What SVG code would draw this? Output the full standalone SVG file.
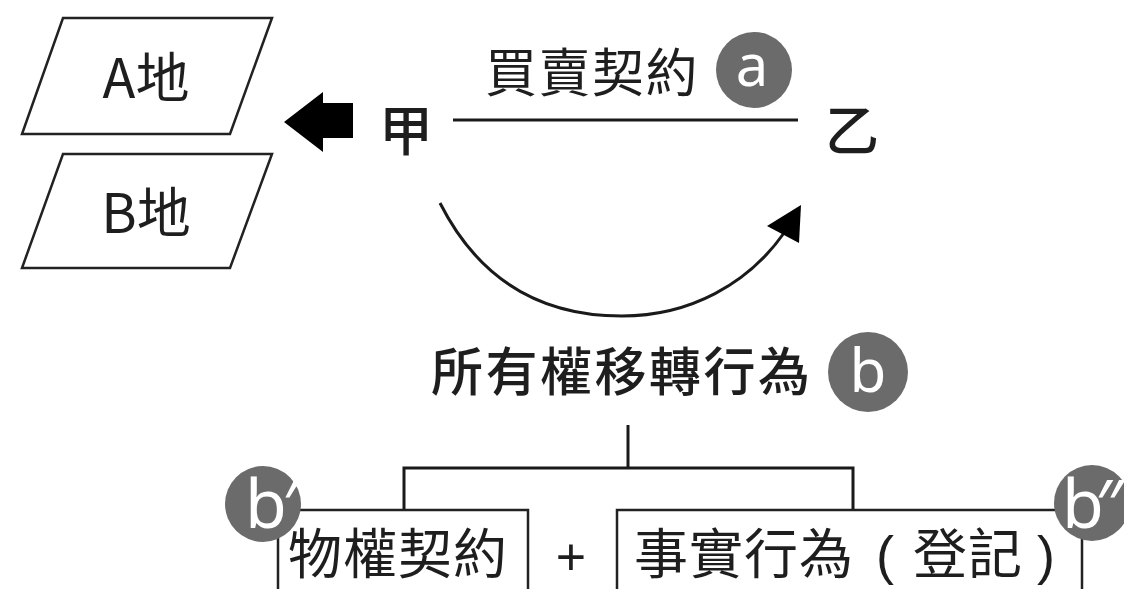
<svg xmlns="http://www.w3.org/2000/svg" width="1124" height="589" viewBox="0 0 1124 589">
<style>
.t{font-family:"Noto Sans CJK TC","Noto Sans CJK SC",sans-serif;fill:#1e1e1e;font-weight:400;}
.m{font-weight:500;}
.p{font-family:"Liberation Sans",sans-serif;fill:#1e1e1e;}
.shape{fill:#fff;stroke:#222;stroke-width:2.5;}
.ln{fill:none;stroke:#1a1a1a;stroke-width:3;}
.badge{fill:#6b6b6b;}
.bt{font-family:"Noto Sans","Liberation Sans",sans-serif;fill:#fff;}
</style>
<rect width="1124" height="589" fill="#fff"/>
<g id="connectors">
  <polygon points="284,122 323,92 323,103 353,103 353,138 323,138 323,152" fill="#000"/>
  <line class="ln" x1="453" y1="120" x2="798" y2="120"/>
  <path class="ln" d="M440,203 C485,292 555,316 622,316 C690,316 748,284 784,233"/>
  <polygon points="801,205 767,226 799,243" fill="#000"/>
  <path class="ln" d="M628,425 V468 M404,509 V468 H853 V509"/>
</g>
<g id="nodeA">
  <polygon class="shape" points="63,18 272,18 230,134 22,134"/>
  <text class="t" x="146" y="98" font-size="54" text-anchor="middle">A地</text>
</g>
<g id="nodeB">
  <polygon class="shape" points="63,154 272,154 230,268 22,268"/>
  <text class="t" x="146" y="233" font-size="54" text-anchor="middle">B地</text>
</g>
<g id="jia">
  <text class="t m" x="406" y="151" font-size="54" text-anchor="middle">甲</text>
</g>
<g id="yi">
  <text class="t m" x="852" y="151" font-size="54" text-anchor="middle">乙</text>
</g>
<g id="contract">
  <text class="t" x="485" y="92" font-size="52" letter-spacing="1.5">買賣契約</text>
  <circle class="badge" cx="754" cy="70" r="38"/>
  <text class="bt" x="752" y="86" font-size="58" text-anchor="middle">a</text>
</g>
<g id="transfer">
  <text class="t m" x="431" y="391" font-size="52" letter-spacing="2.5">所有權移轉行為</text>
  <circle class="badge" cx="868" cy="372" r="40"/>
  <text class="bt" x="868" y="392" font-size="60" text-anchor="middle">b</text>
</g>
<g id="realContract">
  <rect class="shape" x="278" y="510" width="250" height="100"/>
  <text class="t" x="288" y="574" font-size="54" letter-spacing="1">物權契約</text>
  <circle class="badge" cx="263" cy="504" r="38"/>
  <text class="bt" x="245" y="528" font-size="68" letter-spacing="-4">b′</text>
</g>
<g id="plus">
  <text class="p" x="571" y="575" font-size="52" text-anchor="middle">+</text>
</g>
<g id="registration">
  <rect class="shape" x="617" y="510" width="465" height="100"/>
  <text class="t" x="634" y="574" font-size="54" letter-spacing="1">事實行為</text>
  <text class="p" x="876" y="574" font-size="54">(</text>
  <text class="t" x="913" y="574" font-size="54" letter-spacing="1">登記</text>
  <text class="p" x="1037" y="574" font-size="54">)</text>
  <circle class="badge" cx="1092" cy="503" r="38"/>
  <text class="bt" x="1062" y="528" font-size="68" letter-spacing="-8">b″</text>
</g>
</svg>
